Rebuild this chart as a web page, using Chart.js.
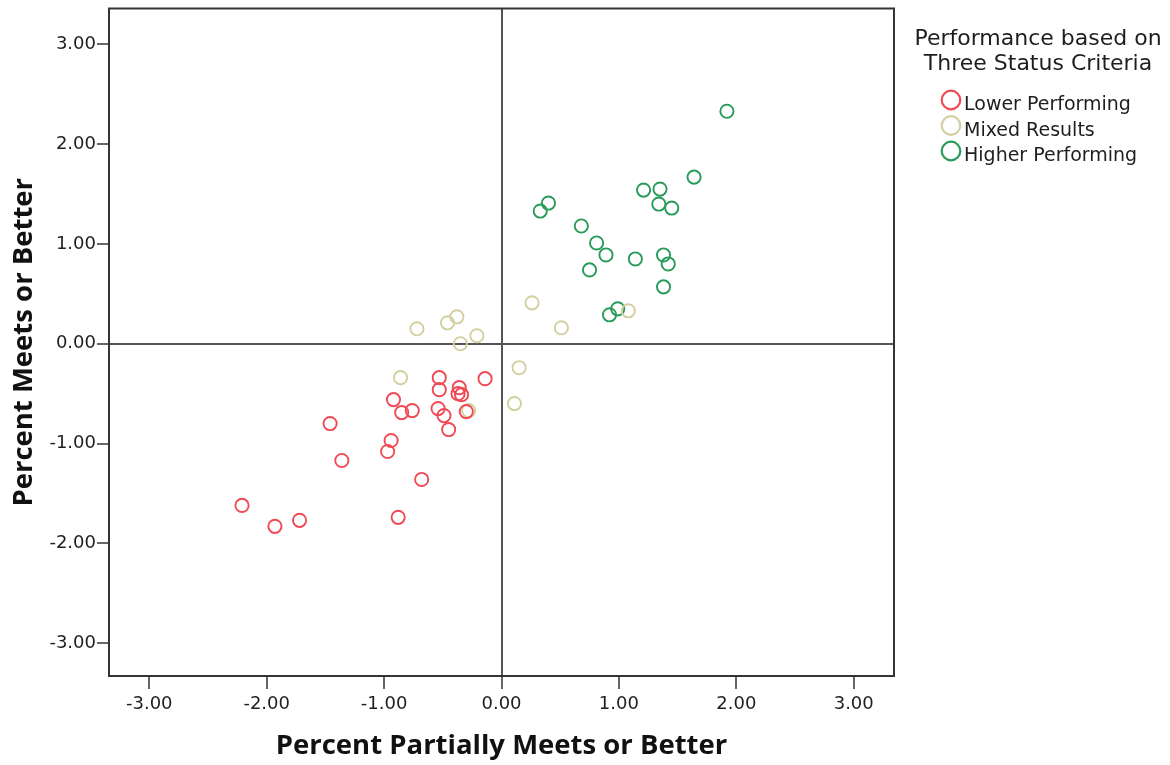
<!DOCTYPE html>
<html><head><meta charset="utf-8">
<script src="https://cdn.jsdelivr.net/npm/chart.js@4.4.1/dist/chart.umd.min.js"></script>
<style>html,body{margin:0;padding:0;background:#fff;} canvas{display:block;}</style>
</head><body>
<canvas id="c" width="1170" height="765"></canvas>
<script>
const seriesNames = ['Lower Performing', 'Mixed Results', 'Higher Performing'];
const legendTitle = ['Performance based on', 'Three Status Criteria'];
const xTitle = 'Percent Partially Meets or Better';
const yTitle = 'Percent Meets or Better';
const tickValues = [-3, -2, -1, 0, 1, 2, 3];

const lowerX = [-0.53, -0.53, -0.14, -0.36, -0.37, -0.34, -0.92, -0.85, -0.76, -0.54, -0.49, -0.30, -0.45, -1.46, -0.94, -0.97, -1.36, -0.68, -2.21, -1.93, -1.72, -0.88];
const lowerY = [-0.34, -0.46, -0.35, -0.44, -0.50, -0.51, -0.56, -0.69, -0.67, -0.65, -0.72, -0.68, -0.86, -0.80, -0.97, -1.08, -1.17, -1.36, -1.62, -1.83, -1.77, -1.74];

const mixedX = [-0.86, -0.28, 0.15, 0.11, -0.35, -0.21, -0.72, -0.46, -0.38, 0.26, 0.51, 1.08];
const mixedY = [-0.34, -0.67, -0.24, -0.60, 0.00, 0.08, 0.15, 0.21, 0.27, 0.41, 0.16, 0.33];

const higherX = [1.92, 1.64, 1.21, 1.35, 1.34, 1.45, 0.40, 0.33, 0.68, 0.81, 0.89, 1.14, 1.38, 1.42, 0.75, 1.38, 0.99, 0.92];
const higherY = [2.33, 1.67, 1.54, 1.55, 1.40, 1.36, 1.41, 1.33, 1.18, 1.01, 0.89, 0.85, 0.89, 0.80, 0.74, 0.57, 0.35, 0.29];

const seriesColors = ['rgb(240,74,84)', 'rgb(212,207,160)', 'rgb(40,155,90)'];

const toPoints = (xs, ys) => xs.map((x, i) => ({x: x, y: ys[i]}));
const seriesData = [toPoints(lowerX, lowerY), toPoints(mixedX, mixedY), toPoints(higherX, higherY)];

const datasets = seriesData.map((pts, i) => ({
  label: seriesNames[i],
  data: pts,
  borderColor: seriesColors[i],
  backgroundColor: 'rgba(0,0,0,0)',
  pointRadius: 6.6,
  pointHoverRadius: 6.6,
  pointBorderWidth: 1.9,
  pointStyle: 'circle'
}));

const frameAndLegend = {
  id: 'frameAndLegend',
  afterDraw(chart) {
    const ctx = chart.ctx;
    const a = chart.chartArea;
    ctx.save();
    ctx.strokeStyle = '#333';
    ctx.lineWidth = 2;
    ctx.strokeRect(a.left, a.top, a.right - a.left, a.bottom - a.top);

    const lx = a.right;
    ctx.fillStyle = '#1e1e1e';
    ctx.font = '22px "DejaVu Sans"';
    ctx.textAlign = 'center';
    ctx.textBaseline = 'alphabetic';
    legendTitle.forEach((t, i) => ctx.fillText(t, lx + 144, 45 + i * 25));
    ctx.font = '19px "DejaVu Sans"';
    ctx.textAlign = 'left';
    chart.data.datasets.forEach((ds, i) => {
      const cy = 100 + i * 25.5;
      ctx.beginPath();
      ctx.arc(lx + 57, cy, 9.3, 0, Math.PI * 2);
      ctx.strokeStyle = ds.borderColor;
      ctx.lineWidth = 2.2;
      ctx.stroke();
      ctx.fillText(ds.label, lx + 70, cy + 10);
    });
    ctx.restore();
  }
};

const gridColor = c => (c.tick && c.tick.value === 0) ? '#555' : 'rgba(0,0,0,0)';
const setTicks = axis => { axis.ticks = tickValues.map(v => ({value: v})); };

new Chart(document.getElementById('c'), {
  type: 'scatter',
  data: {datasets: datasets},
  options: {
    responsive: false,
    animation: false,
    devicePixelRatio: 1,
    layout: {padding: {left: 0, right: 276, top: 8, bottom: 0}},
    plugins: {legend: {display: false}, tooltip: {enabled: false}},
    scales: {
      x: {
        type: 'linear',
        min: -3.343, max: 3.343,
        afterBuildTicks: setTicks,
        afterFit: s => { s.height = 89; s.paddingLeft = 0; s.paddingRight = 0; },
        border: {display: false},
        grid: {color: gridColor, lineWidth: 2, tickColor: '#333', tickWidth: 1.5, tickLength: 13},
        ticks: {
          autoSkip: false, maxRotation: 0, padding: 5,
          color: '#1e1e1e',
          font: {family: 'DejaVu Sans', size: 18},
          callback: v => Number(v).toFixed(2)
        },
        title: {
          display: true, text: xTitle, color: '#111',
          font: {family: 'Open Sans', size: 27.5, weight: 'bold'},
          padding: {top: 0, bottom: 2}
        }
      },
      y: {
        type: 'linear',
        min: -3.33, max: 3.36,
        afterBuildTicks: setTicks,
        afterFit: s => { s.width = 109; s.paddingTop = 0; s.paddingBottom = 0; },
        border: {display: false},
        grid: {color: gridColor, lineWidth: 2, tickColor: '#333', tickWidth: 1.5, tickLength: 12},
        ticks: {
          autoSkip: false, padding: 1,
          color: '#1e1e1e',
          font: {family: 'DejaVu Sans', size: 18},
          callback: v => Number(v).toFixed(2)
        },
        title: {
          display: true, text: yTitle, color: '#111',
          font: {family: 'Open Sans', size: 27.5, weight: 'bold'},
          padding: {top: 8, bottom: 0}
        }
      }
    }
  },
  plugins: [frameAndLegend]
});
</script>
</body></html>
